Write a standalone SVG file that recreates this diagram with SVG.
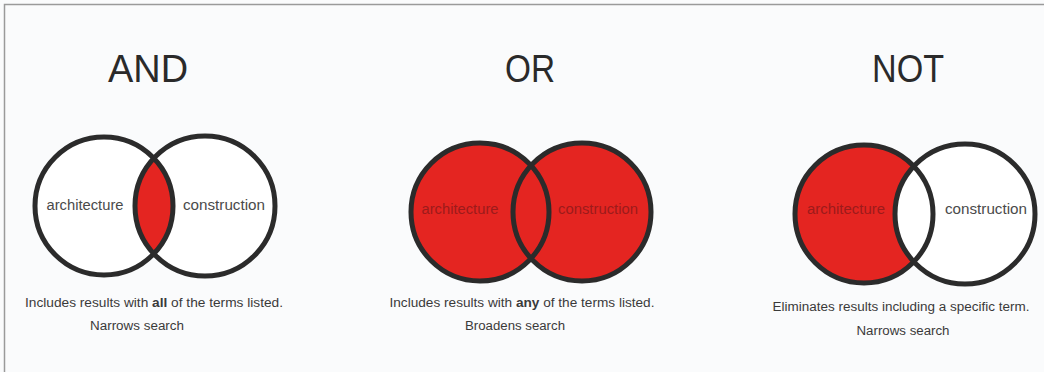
<svg xmlns="http://www.w3.org/2000/svg" width="1044" height="372" viewBox="0 0 1044 372">
<style>
.bg{fill:#fafbfc}
.frame{fill:none;stroke:#9a9a9a;stroke-width:1.5}
.title{font-family:"Liberation Sans",Arial,sans-serif;font-size:38px;fill:#2a2a2a;text-anchor:middle}
.ring{fill:none;stroke:#2b2b2b;stroke-width:5}
.white{fill:#ffffff}
.red{fill:#e42521}
.lbl{font-family:"Liberation Sans",Arial,sans-serif;font-size:14px;text-anchor:middle}
.gray{fill:#4a4a4a}
.dred{fill:#9c1b1b}
.cap{font-family:"Liberation Sans",Arial,sans-serif;font-size:12.5px;fill:#3a3a3a;text-anchor:middle}
</style>
<defs>
<clipPath id="andLeft"><circle cx="104" cy="206" r="69"/></clipPath>
</defs>
<rect class="bg" x="0" y="0" width="1044" height="372"/>
<path class="frame" d="M4.5 372 V4.5 H1044"/>

<g id="and">
<text class="title" x="148" y="82" textLength="80" lengthAdjust="spacingAndGlyphs">AND</text>
<circle class="white" cx="104" cy="206" r="69"/>
<circle class="white" cx="205" cy="206" r="70"/>
<circle class="red" cx="205" cy="206" r="70" clip-path="url(#andLeft)"/>
<circle class="ring" cx="104" cy="206" r="69"/>
<circle class="ring" cx="205" cy="206" r="70"/>
<text class="lbl gray" x="85" y="210" textLength="77" lengthAdjust="spacingAndGlyphs">architecture</text>
<text class="lbl gray" x="224" y="210" textLength="82" lengthAdjust="spacingAndGlyphs">construction</text>
<text class="cap" x="154" y="307" textLength="258" lengthAdjust="spacingAndGlyphs">Includes results with <tspan font-weight="bold">all</tspan> of the terms listed.</text>
<text class="cap" x="137" y="330" textLength="94" lengthAdjust="spacingAndGlyphs">Narrows search</text>
</g>

<g id="or">
<text class="title" x="530" y="82" textLength="50" lengthAdjust="spacingAndGlyphs">OR</text>
<circle class="red" cx="480" cy="212" r="69"/>
<circle class="red" cx="582" cy="212" r="69"/>
<circle class="ring" cx="480" cy="212" r="69"/>
<circle class="ring" cx="582" cy="212" r="69"/>
<text class="lbl dred" x="460" y="214" textLength="77" lengthAdjust="spacingAndGlyphs">architecture</text>
<text class="lbl dred" x="598" y="214" textLength="80" lengthAdjust="spacingAndGlyphs">construction</text>
<text class="cap" x="522" y="307" textLength="265" lengthAdjust="spacingAndGlyphs">Includes results with <tspan font-weight="bold">any</tspan> of the terms listed.</text>
<text class="cap" x="515" y="330" textLength="100" lengthAdjust="spacingAndGlyphs">Broadens search</text>
</g>

<g id="not">
<text class="title" x="908" y="82" textLength="72" lengthAdjust="spacingAndGlyphs">NOT</text>
<circle class="red" cx="864" cy="214" r="69"/>
<circle class="white" cx="965" cy="214" r="70"/>
<circle class="ring" cx="864" cy="214" r="69"/>
<circle class="ring" cx="965" cy="214" r="70"/>
<text class="lbl dred" x="846" y="214" textLength="78" lengthAdjust="spacingAndGlyphs">architecture</text>
<text class="lbl gray" x="986" y="214" textLength="82" lengthAdjust="spacingAndGlyphs">construction</text>
<text class="cap" x="901" y="311" textLength="257" lengthAdjust="spacingAndGlyphs">Eliminates results including a specific term.</text>
<text class="cap" x="903" y="335" textLength="93" lengthAdjust="spacingAndGlyphs">Narrows search</text>
</g>
</svg>
